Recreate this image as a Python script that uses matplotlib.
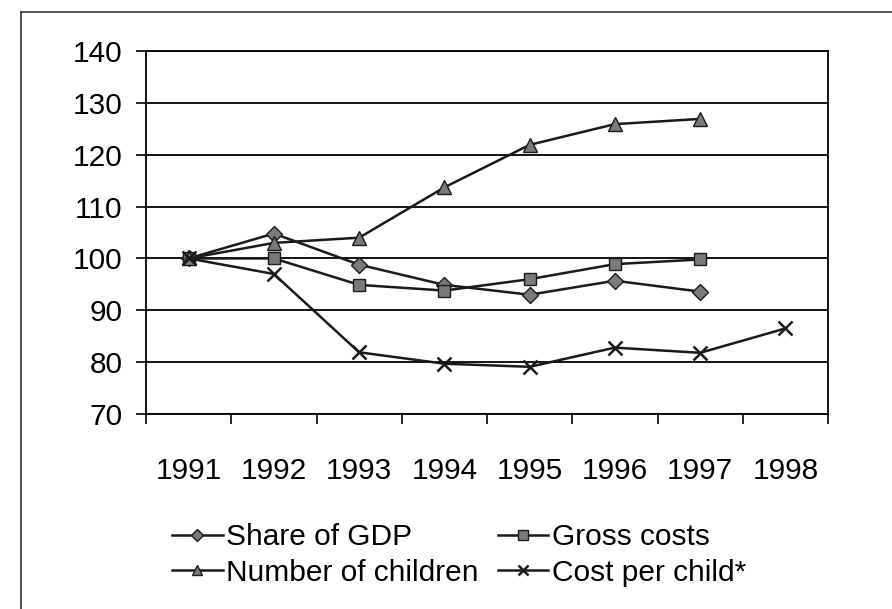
import matplotlib
matplotlib.use("Agg")
import matplotlib.pyplot as plt
from matplotlib.lines import Line2D

plt.rcParams['font.family'] = ['Liberation Sans', 'DejaVu Sans']

years = ["1991", "1992", "1993", "1994", "1995", "1996", "1997", "1998"]
share_of_gdp = [100, 104.8, 98.8, 94.9, 93.0, 95.7, 93.6]
gross_costs = [100, 100.0, 94.9, 93.8, 96.0, 98.9, 99.8]
number_of_children = [100, 103.0, 104.0, 113.7, 121.9, 125.9, 126.9]
cost_per_child = [100, 97.0, 81.9, 79.7, 79.1, 82.8, 81.8, 86.5]

series = [
    ("Share of GDP", share_of_gdp, "D", 8.5),
    ("Gross costs", gross_costs, "s", 9),
    ("Number of children", number_of_children, "^", 10),
    ("Cost per child*", cost_per_child, "x", 10),
]

W, H = 892, 609
fig = plt.figure(figsize=(W / 100, H / 100), dpi=100)
ax = fig.add_axes([146 / W, (H - 414) / H, (828 - 146) / W, (414 - 51) / H])

line_col = "#1a1a1a"
marker_fill = "#7a7a7a"
for label, vals, mk, ms in series:
    x = list(range(len(vals)))
    if mk == "x":
        ax.plot(x, vals, color=line_col, lw=1.8, marker=mk, ms=ms,
                mew=1.8, mec=line_col, label=label, zorder=3)
    else:
        ax.plot(x, vals, color=line_col, lw=1.8, marker=mk, ms=ms,
                mfc=marker_fill, mec=line_col, mew=1.0, label=label, zorder=3)

ax.set_ylim(70, 140)
ax.set_yticks(range(70, 141, 10))
ax.set_xlim(-0.5, len(years) - 0.5)
ax.set_xticks([i - 0.5 for i in range(len(years) + 1)])
ax.set_xticklabels([])
ax.set_xticks(range(len(years)), minor=True)
ax.set_xticklabels(years, minor=True)
ax.tick_params(axis="x", which="major", length=7, width=1.2, direction="out", color="black")
ax.tick_params(axis="x", which="minor", length=0, pad=31, labelsize=21.5)
ax.tick_params(axis="y", length=7, width=1.2, direction="out", pad=10, labelsize=21.5)

ax.grid(axis="y", color="black", lw=1.3)
ax.set_axisbelow(True)
for sp in ax.spines.values():
    sp.set_color("black")
    sp.set_linewidth(1.3)

# legend fills column-wise; order so rows read left to right
handles, labels = ax.get_legend_handles_labels()
order = [0, 2, 1, 3]
fig.legend([handles[i] for i in order], [labels[i] for i in order],
           ncol=2, frameon=False, fontsize=21.5,
           loc="center left", bbox_to_anchor=(157 / W, 1 - 555 / H),
           handlelength=1.7, handletextpad=0.12, columnspacing=0.63,
           labelspacing=0.25, borderpad=0, markerscale=0.75)

# page frame (top and left edges)
fig.add_artist(Line2D([21 / W, 21 / W], [0, 1 - 12 / H], transform=fig.transFigure,
                      color="#333333", lw=1.2))
fig.add_artist(Line2D([21 / W, 1], [1 - 12 / H, 1 - 12 / H], transform=fig.transFigure,
                      color="#333333", lw=1.2))

fig.savefig("out.png", dpi=100, facecolor="white")
